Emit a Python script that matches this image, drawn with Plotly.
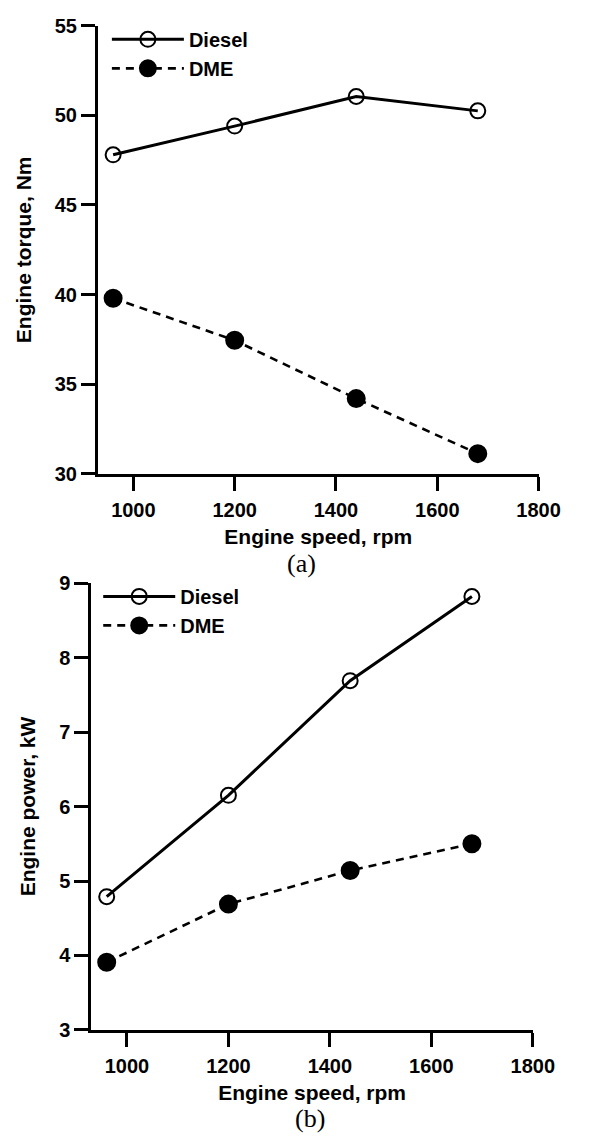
import plotly.graph_objects as go

# Engine speed (rpm) at which both fuels were tested
speed_rpm = [960, 1200, 1440, 1680]

# (a) Engine torque, Nm
torque_diesel = [47.8, 49.4, 51.05, 50.25]
torque_dme = [39.8, 37.45, 34.2, 31.13]

# (b) Engine power, kW
power_diesel = [4.79, 6.15, 7.69, 8.82]
power_dme = [3.91, 4.69, 5.14, 5.50]

speed_ticks = [1000, 1200, 1400, 1600, 1800]
torque_ticks = [30, 35, 40, 45, 50, 55]
power_ticks = [3, 4, 5, 6, 7, 8, 9]

W, H = 593, 1142
SANS = "Liberation Sans"
SERIF = "Liberation Serif"
BLACK = "#000000"


def px_x(v):
    return v / W


def px_y(v):
    return 1 - v / H


def bold_labels(values):
    return [f"<b>{v}</b>" for v in values]


fig = go.Figure()


def add_series(x, y, name, filled, xa, ya, legend):
    fig.add_trace(go.Scatter(
        x=x, y=y, name=name, mode="lines+markers",
        xaxis=xa, yaxis=ya, legend=legend,
        line=dict(color=BLACK, width=2.6 if filled else 3,
                  dash="8px,6px" if filled else "solid"),
        marker=dict(
            symbol="circle" if filled else "circle-open",
            size=17 if filled else 15,
            color=BLACK,
            line=dict(color=BLACK, width=2),
        ),
    ))


add_series(speed_rpm, torque_diesel, "Diesel", False, "x", "y", "legend")
add_series(speed_rpm, torque_dme, "DME", True, "x", "y", "legend")
add_series(speed_rpm, power_diesel, "Diesel", False, "x2", "y2", "legend2")
add_series(speed_rpm, power_dme, "DME", True, "x2", "y2", "legend2")

tick_font = dict(family=SANS, size=20, color=BLACK)
title_font = dict(family=SANS, size=21, color=BLACK, weight="bold")
legend_font = dict(family=SANS, size=20, color=BLACK, weight="bold")

axis_common = dict(
    showline=True, linecolor=BLACK, linewidth=3,
    ticks="outside", ticklen=14, tickwidth=3, tickcolor=BLACK,
    showgrid=False, zeroline=False, tickfont=tick_font,
    tickmode="array", fixedrange=True,
)

fig.update_layout(
    width=W, height=H,
    margin=dict(l=0, r=0, t=0, b=0),
    paper_bgcolor="white", plot_bgcolor="white",
    xaxis=dict(
        **axis_common, domain=[px_x(101.7), px_x(559.3)], anchor="y",
        range=[930, 1800], tickvals=speed_ticks,
        ticktext=bold_labels(speed_ticks), ticklabelstandoff=2,
        title=dict(text="Engine speed, rpm", font=title_font, standoff=10),
    ),
    yaxis=dict(
        **axis_common, domain=[px_y(472), px_y(15)], anchor="x",
        range=[30, 55], tickvals=torque_ticks,
        ticktext=bold_labels(torque_ticks),
        title=dict(text="Engine torque, Nm", font=title_font, standoff=18),
    ),
    xaxis2=dict(
        **axis_common, domain=[px_x(95), px_x(553.3)], anchor="y2",
        range=[930, 1800], tickvals=speed_ticks,
        ticktext=bold_labels(speed_ticks), ticklabelstandoff=2,
        title=dict(text="Engine speed, rpm", font=title_font, standoff=10),
    ),
    yaxis2=dict(
        **axis_common, domain=[px_y(1039), px_y(583.3)], anchor="x2",
        range=[3, 9], tickvals=power_ticks,
        ticktext=bold_labels(power_ticks),
        title=dict(text="Engine power, kW", font=title_font, standoff=18),
    ),
    legend=dict(
        x=px_x(111), y=px_y(9), xanchor="left", yanchor="top",
        bgcolor="rgba(0,0,0,0)", borderwidth=0,
        font=legend_font, itemwidth=72, tracegroupgap=0,
    ),
    legend2=dict(
        x=px_x(102), y=px_y(577), xanchor="left", yanchor="top",
        bgcolor="rgba(0,0,0,0)", borderwidth=0,
        font=legend_font, itemwidth=72, tracegroupgap=0,
    ),
    annotations=[
        dict(text="(a)", x=px_x(313), y=px_y(563), xref="paper", yref="paper",
             showarrow=False, xanchor="center", yanchor="middle",
             font=dict(family=SERIF, size=26, color=BLACK)),
        dict(text="(b)", x=px_x(322), y=px_y(1129), xref="paper", yref="paper",
             showarrow=False, xanchor="center", yanchor="middle",
             font=dict(family=SERIF, size=26, color=BLACK)),
    ],
)

fig.write_html("out.html")
